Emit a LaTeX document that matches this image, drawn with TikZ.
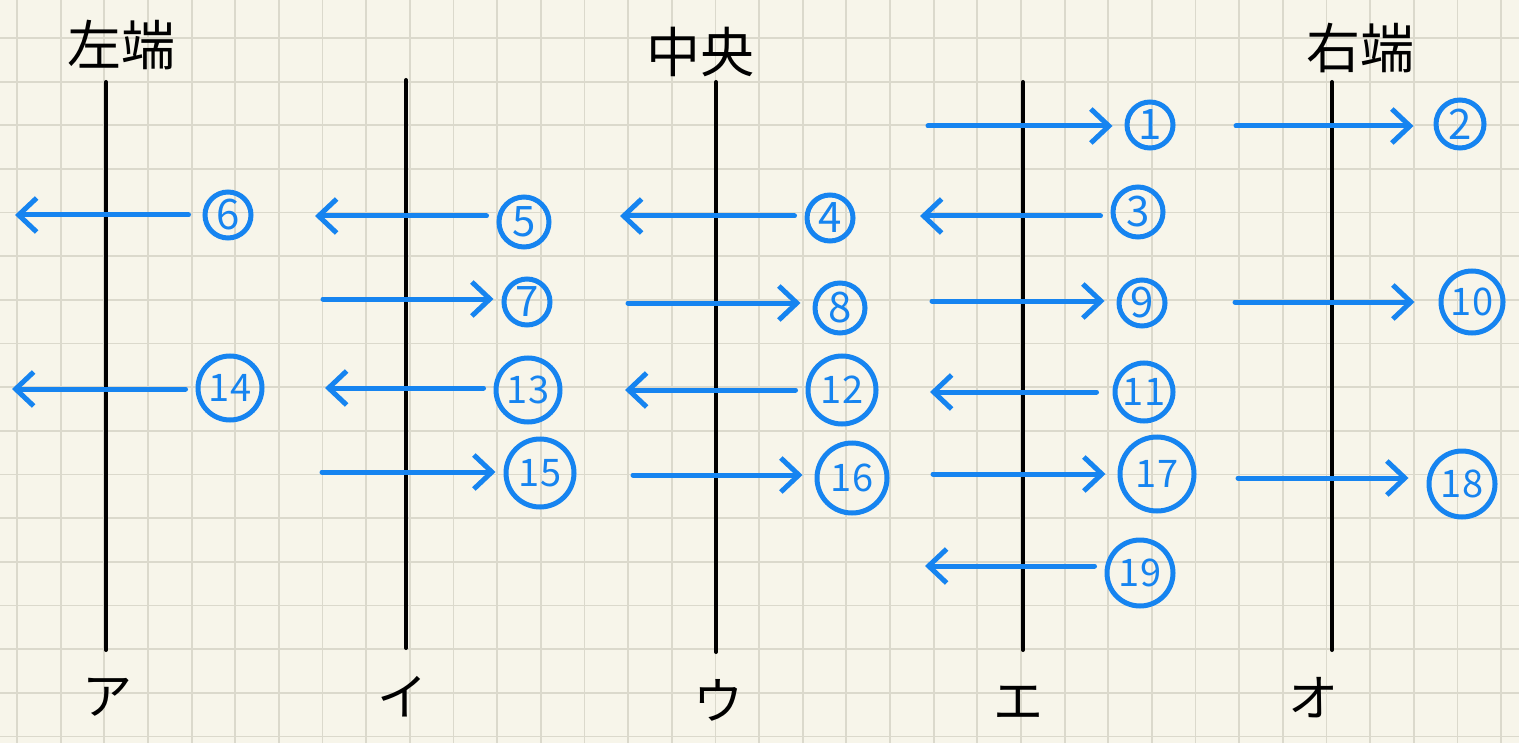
\documentclass[tikz,border=0pt]{standalone}
\usepackage{fontspec}
\setmainfont{Noto Sans CJK JP}
\usetikzlibrary{arrows.meta}
\definecolor{paper}{RGB}{247,245,234}
\definecolor{gridc}{RGB}{219,217,204}
\definecolor{pen}{RGB}{22,132,240}
\begin{document}
\begin{tikzpicture}[x=0.5pt,y=-0.5pt,
  gridline/.style={gridc, line width=0.9pt},
  axis/.style={black, line width=2pt, line cap=round},
  flow/.style={pen, line width=2.5pt, line cap=round, line join=round,
    -{Straight Barb[length=9pt,width=17pt]}, shorten >=6pt},
  back/.style={pen, line width=2.5pt, line cap=round, line join=round,
    -{Straight Barb[length=9pt,width=17pt]}, shorten <=5pt},
  num/.style={circle, draw=pen, line width=2.5pt, text=pen, inner sep=0pt,
    font=\fontsize{21}{21}\selectfont},
  pair/.style={num, font=\fontsize{19}{19}\selectfont},
  title/.style={font=\fontsize{27}{27}\selectfont},
  kana/.style={font=\fontsize{25}{25}\selectfont}]

% paper and squared grid
\fill[paper] (0,0) rectangle (1519,743);
\useasboundingbox (0,0) rectangle (1519,743);
\foreach \i in {0,...,34} \draw[gridline] ({17+43.65*\i},0) -- ({17+43.65*\i},743);
\foreach \j in {-1,...,16} \draw[gridline] (0,{38+43.65*\j}) -- (1519,{38+43.65*\j});

% headings
\node[title] (left)   at (121,45) {左端};
\node[title] (centre) at (700,52) {中央};
\node[title] (right)  at (1360,48) {右端};

% vertical lines and their labels
\node[kana] (la) at (107,697) {ア};
\node[kana] (li) at (402,697) {イ};
\node[kana] (lu) at (718,700) {ウ};
\node[kana] (le) at (1018,703) {エ};
\node[kana] (lo) at (1313,698) {オ};
\coordinate (ta) at (106,82);   \coordinate (ba) at (106,650);
\coordinate (ti) at (406,80);   \coordinate (bi) at (406,648);
\coordinate (tu) at (716,82);   \coordinate (bu) at (716,652);
\coordinate (te) at (1023,82);  \coordinate (be) at (1023,650);
\coordinate (to) at (1332,82);  \coordinate (bo) at (1332,650);
\draw[axis] (ta) -- (ba);
\draw[axis] (ti) -- (bi);
\draw[axis] (tu) -- (bu);
\draw[axis] (te) -- (be);
\draw[axis] (to) -- (bo);

% numbered steps
\node[num, minimum size=23pt] (c1)  at (1150,125) {1};
\node[num, minimum size=24pt] (c2)  at (1460,124) {2};
\node[num, minimum size=25pt] (c3)  at (1138,212) {3};
\node[num, minimum size=23pt] (c4)  at (830,218)  {4};
\node[num, minimum size=25pt] (c5)  at (524,222)  {5};
\node[num, minimum size=23pt] (c6)  at (228,215)  {6};
\node[num, minimum size=23pt] (c7)  at (527,302)  {7};
\node[num, minimum size=25pt] (c8)  at (840,308)  {8};
\node[num, minimum size=23pt] (c9)  at (1142,303) {9};
\node[pair, minimum size=31pt] (c10) at (1472,302) {10};
\node[pair, minimum size=29pt] (c11) at (1144,392) {11};
\node[pair, minimum size=34pt] (c12) at (842,390)  {12};
\node[pair, minimum size=32pt] (c13) at (528,390)  {13};
\node[pair, minimum size=32pt] (c14) at (230,388)  {14};
\node[pair, minimum size=34pt] (c15) at (540,473)  {15};
\node[pair, minimum size=35pt] (c16) at (852,478)  {16};
\node[pair, minimum size=37pt] (c17) at (1157,474) {17};
\node[pair, minimum size=33pt] (c18) at (1462,484) {18};
\node[pair, minimum size=33pt] (c19) at (1140,573) {19};

% rightward arrows: tail coordinates
\coordinate (s1)  at (928,126);
\coordinate (s2)  at (1236,126);
\coordinate (s7)  at (323,299);
\coordinate (s8)  at (628,303);
\coordinate (s9)  at (932,301);
\coordinate (s10) at (1235,302);
\coordinate (s15) at (322,472);
\coordinate (s16) at (633,475);
\coordinate (s17) at (933,474);
\coordinate (s18) at (1238,478);
\draw[flow] (s1)  -- (s1  -| c1.west);
\draw[flow, shorten >=10pt] (s2)  -- (s2  -| c2.west);
\draw[flow, shorten >=4pt] (s7)  -- (s7  -| c7.west);
\draw[flow] (s8)  -- (s8  -| c8.west);
\draw[flow] (s9)  -- (s9  -| c9.west);
\draw[flow, shorten >=12pt] (s10) -- (s10 -| c10.west);
\draw[flow, shorten >=4pt] (s15) -- (s15 -| c15.west);
\draw[flow] (s16) -- (s16 -| c16.west);
\draw[flow] (s17) -- (s17 -| c17.west);
\draw[flow, shorten >=9pt] (s18) -- (s18 -| c18.west);

% leftward arrows: head coordinates
\coordinate (e3)  at (920,216);
\coordinate (e4)  at (620,216);
\coordinate (e5)  at (315,216);
\coordinate (e6)  at (15,215);
\coordinate (e11) at (930,392);
\coordinate (e12) at (625,390);
\coordinate (e13) at (325,388);
\coordinate (e14) at (12,389);
\coordinate (e19) at (925,566);
\draw[back] (c3.west  |- e3)  -- (e3);
\draw[back] (c4.west  |- e4)  -- (e4);
\draw[back] (c5.west  |- e5)  -- (e5);
\draw[back, shorten <=7pt] (c6.west  |- e6)  -- (e6);
\draw[back, shorten <=8pt] (c11.west |- e11) -- (e11);
\draw[back] (c12.west |- e12) -- (e12);
\draw[back] (c13.west |- e13) -- (e13);
\draw[back] (c14.west |- e14) -- (e14);
\draw[back] (c19.west |- e19) -- (e19);
\end{tikzpicture}
\end{document}
